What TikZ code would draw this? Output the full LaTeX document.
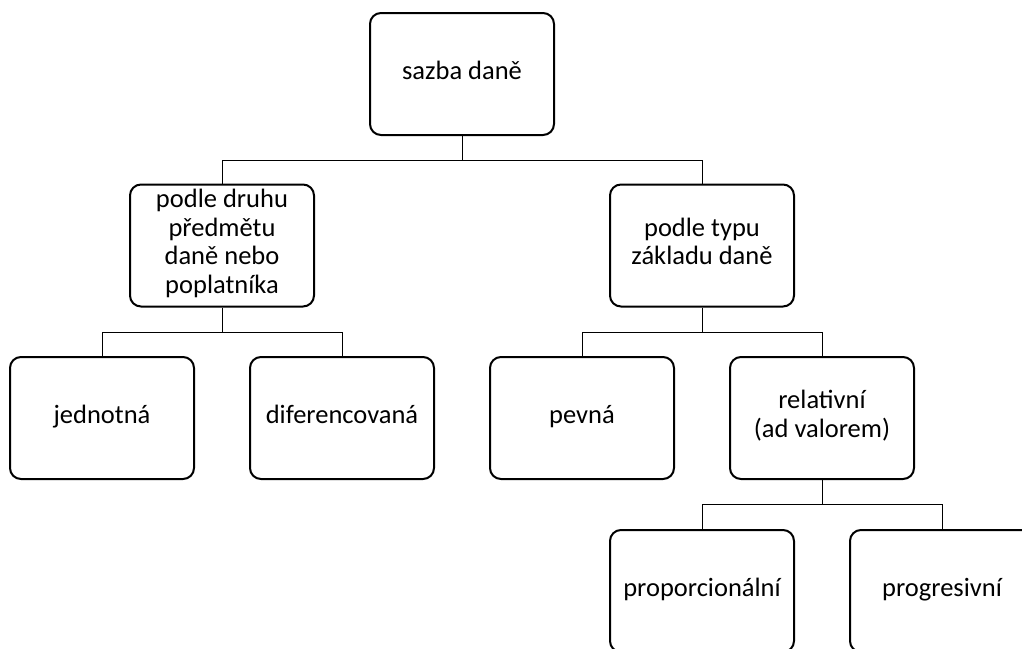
\documentclass[tikz,border=0pt]{standalone}
\usepackage{fontspec}
\setmainfont{Carlito}
\usepackage{tikz}

\begin{document}
\begin{tikzpicture}[x=1pt, y=-1pt]
    \tikzset{rate/.style={draw, line width=2pt, rounded corners=11pt, fill=white,
        minimum width=184pt, minimum height=122pt, inner sep=0pt, align=center,
        font=\fontsize{26.5}{28.5}\selectfont,
        execute at begin node=\strut, execute at end node=\strut}}
    \tikzset{link/.style={line width=1pt}}

    \clip (0,0) rectangle (1022,648);

    \node[rate] (sazba) at (462,74) {sazba daně};
    \node[rate] (druh) at (222,245.5) {podle druhu\\předmětu\\daně nebo\\poplatníka};
    \node[rate] (typ) at (702,245.5) {podle typu\\základu daně};
    \node[rate] (jedn) at (102,418) {jednotná};
    \node[rate] (dif) at (342,418) {diferencovaná};
    \node[rate] (pevna) at (582,418) {pevná};
    \node[rate] (rel) at (822,418) {relativní\\(ad valorem)};
    \node[rate] (prop) at (702,591) {proporcionální};
    \node[rate] (prog) at (942,591) {progresivní};

    \draw[link] (sazba.south) -- ++(0,24) -| (druh.north);
    \draw[link] (sazba.south) -- ++(0,24) -| (typ.north);
    \draw[link] (druh.south) -- ++(0,24.5) -| (jedn.north);
    \draw[link] (druh.south) -- ++(0,24.5) -| (dif.north);
    \draw[link] (typ.south) -- ++(0,24.5) -| (pevna.north);
    \draw[link] (typ.south) -- ++(0,24.5) -| (rel.north);
    \draw[link] (rel.south) -- ++(0,24.5) -| (prop.north);
    \draw[link] (rel.south) -- ++(0,24.5) -| (prog.north);
\end{tikzpicture}
\end{document}
